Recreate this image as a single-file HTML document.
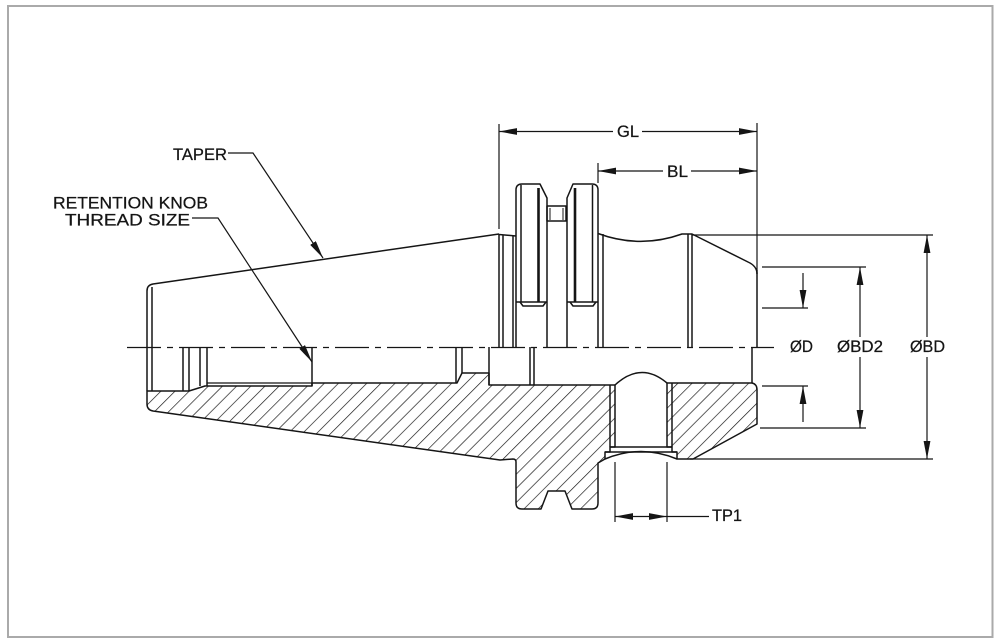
<!DOCTYPE html>
<html><head><meta charset="utf-8"><style>
html,body{margin:0;padding:0;background:#fff;width:1001px;height:644px;overflow:hidden}
svg{display:block}
text{font-family:"Liberation Sans","DejaVu Sans",sans-serif;fill:#151515;stroke:#151515;stroke-width:0.25}
</style></head><body>
<svg width="1001" height="644" viewBox="0 0 1001 644" xmlns="http://www.w3.org/2000/svg">
<defs>
<pattern id="h" patternUnits="userSpaceOnUse" width="10" height="10" patternTransform="rotate(45)">
<rect width="10" height="10" fill="#fff"/>
<line x1="0" y1="-1" x2="0" y2="11" stroke="#151515" stroke-width="1.35"/>
</pattern>
<marker id="a" markerUnits="userSpaceOnUse" markerWidth="19" markerHeight="8" refX="18" refY="3.4" orient="auto" viewBox="0 0 19 8">
<path d="M0,0 L18,3.4 L0,6.8 Z" fill="#151515"/>
</marker>
</defs>

<rect x="8" y="6" width="984.5" height="631" fill="none" stroke="#aaaaaa" stroke-width="2"/>

<!-- hatched section regions -->
<g stroke="#151515" stroke-width="1.5" stroke-linejoin="round">
<path fill="url(#h)" d="M147,391 L189,391 L205,386 L312,386 L312,383 L457,383 L462,373 L489,373 L489,385 L615,385 L615,447 L610,447 L610,452 L605,452 L605,459 L598,463 L598,503 Q598,509 592,509 L572,509 L565,491 L548,491 L541,509 L522,509 Q516,509 516,503 L516,462 Q516,459 513,459 L500,460 L153,411 Q147,410 147,404 Z"/>
<path fill="url(#h)" d="M667,383 L752,383 Q757,384 757,390 L757,424 L693,459 L677,459 L677,452 L672,452 L672,447 L667,447 Z"/>
</g>

<!-- outlines -->
<g fill="none" stroke="#151515" stroke-width="1.5" stroke-linejoin="round">
<path d="M147,391 L147,291 Q147,285 153,284 L499,234"/>
<line x1="152" y1="287" x2="152" y2="391"/>
<line x1="183" y1="347" x2="183" y2="391"/>
<line x1="189" y1="347" x2="189" y2="391"/>
<line x1="200" y1="347" x2="200" y2="386"/>
<line x1="207" y1="347" x2="207" y2="386"/>
<line x1="207" y1="383" x2="312" y2="383" stroke-width="1.2"/>
<line x1="312" y1="347" x2="312" y2="386"/>
<line x1="456" y1="347" x2="456" y2="383"/>
<line x1="462" y1="347" x2="462" y2="373"/>
<line x1="489" y1="347" x2="489" y2="385"/>
<line x1="530" y1="347" x2="530" y2="385"/>
<line x1="534" y1="347" x2="534" y2="385"/>
<path d="M499,234 L499,347"/>
<path d="M499,234.5 L516,236"/>
<line x1="503" y1="235" x2="503" y2="347"/>
<line x1="513" y1="236" x2="513" y2="347"/>
<path d="M516,347 L516,190 Q516,184 522,184 L540,184 L547,198 L547,347"/>
<path d="M567,347 L567,198 L573,184 L592,184 Q598,184 598,190 L598,347"/>
<line x1="521" y1="185" x2="521" y2="302"/>
<line x1="538.5" y1="188" x2="538.5" y2="302" stroke-width="2.6"/>
<path d="M516,302 L547,302"/>
<path d="M520,302 L523,306 L543,306 L546,302"/>
<line x1="575" y1="188" x2="575" y2="302" stroke-width="2.6"/>
<line x1="592.5" y1="185" x2="592.5" y2="302"/>
<path d="M567,302 L598,302"/>
<path d="M570,302 L573,306 L593,306 L596,302"/>
<rect x="547" y="206" width="19" height="15"/>
<line x1="550" y1="208" x2="550" y2="220" stroke-width="1"/>
<line x1="563" y1="208" x2="563" y2="220" stroke-width="1"/>
<line x1="603" y1="234" x2="603" y2="347"/>
<path d="M598,233.5 Q640,249 682,234 L692,234 L748,262 Q757,266 757,274"/>
<line x1="688" y1="234" x2="688" y2="347"/>
<line x1="692" y1="234" x2="692" y2="347"/>
<line x1="757" y1="270" x2="757" y2="347"/>
<line x1="752" y1="347" x2="752" y2="383"/>
<path d="M615,385 Q641,361 667,383"/>
<line x1="610" y1="385" x2="610" y2="447"/>
<line x1="672" y1="383" x2="672" y2="447"/>
<line x1="610" y1="447" x2="672" y2="447"/>
<line x1="605" y1="452" x2="677" y2="452"/>
<path d="M605,459 Q641,444 677,459"/>
</g>

<!-- centerline -->
<line x1="127" y1="347.5" x2="774" y2="347.5" stroke="#151515" stroke-width="1.2" stroke-dasharray="34 6 6 6"/>

<!-- dimension and extension lines -->
<g fill="none" stroke="#151515" stroke-width="1.2">
<line x1="499" y1="124" x2="499" y2="229"/>
<line x1="757" y1="123" x2="757" y2="270"/>
<line x1="613" y1="131.5" x2="499" y2="131.5" marker-end="url(#a)"/>
<line x1="642" y1="131.5" x2="757" y2="131.5" marker-end="url(#a)"/>
<line x1="598" y1="163" x2="598" y2="183"/>
<line x1="663" y1="171" x2="598" y2="171" marker-end="url(#a)"/>
<line x1="691" y1="171" x2="757" y2="171" marker-end="url(#a)"/>
<line x1="615" y1="462" x2="615" y2="522"/>
<line x1="667" y1="462" x2="667" y2="522"/>
<line x1="641" y1="516.5" x2="615" y2="516.5" marker-end="url(#a)"/>
<line x1="641" y1="516.5" x2="667" y2="516.5" marker-end="url(#a)"/>
<line x1="667" y1="516.5" x2="709" y2="516.5"/>
<line x1="762" y1="308" x2="808" y2="308"/>
<line x1="762" y1="386" x2="808" y2="386"/>
<line x1="803" y1="273" x2="803" y2="308" marker-end="url(#a)"/>
<line x1="803" y1="422" x2="803" y2="386" marker-end="url(#a)"/>
<line x1="762" y1="267" x2="866" y2="267"/>
<line x1="760" y1="428" x2="866" y2="428"/>
<line x1="860" y1="337" x2="860" y2="267" marker-end="url(#a)"/>
<line x1="860" y1="357" x2="860" y2="428" marker-end="url(#a)"/>
<line x1="692" y1="235" x2="933" y2="235"/>
<line x1="690" y1="459" x2="933" y2="459"/>
<line x1="927" y1="337" x2="927" y2="235" marker-end="url(#a)"/>
<line x1="927" y1="357" x2="927" y2="459" marker-end="url(#a)"/>
<polyline points="228,153 253,153 323,258" marker-end="url(#a)"/>
<polyline points="192,218 218,218 312,362" marker-end="url(#a)"/>
</g>

<!-- labels -->
<text x="173" y="160" font-size="17" textLength="54" lengthAdjust="spacingAndGlyphs">TAPER</text>
<text x="53" y="208.5" font-size="17" textLength="155" lengthAdjust="spacingAndGlyphs">RETENTION  KNOB</text>
<text x="65" y="225.5" font-size="17" textLength="125" lengthAdjust="spacingAndGlyphs">THREAD  SIZE</text>
<text x="617" y="137" font-size="16.5" textLength="22" lengthAdjust="spacingAndGlyphs">GL</text>
<text x="667" y="177" font-size="16.5" textLength="21" lengthAdjust="spacingAndGlyphs">BL</text>
<text x="790" y="352" font-size="16.5" textLength="23" lengthAdjust="spacingAndGlyphs">ØD</text>
<text x="837" y="352" font-size="16.5" textLength="46" lengthAdjust="spacingAndGlyphs">ØBD2</text>
<text x="910" y="352" font-size="16.5" textLength="35" lengthAdjust="spacingAndGlyphs">ØBD</text>
<text x="712" y="521" font-size="16.5" textLength="30" lengthAdjust="spacingAndGlyphs">TP1</text>
</svg>
</body></html>
